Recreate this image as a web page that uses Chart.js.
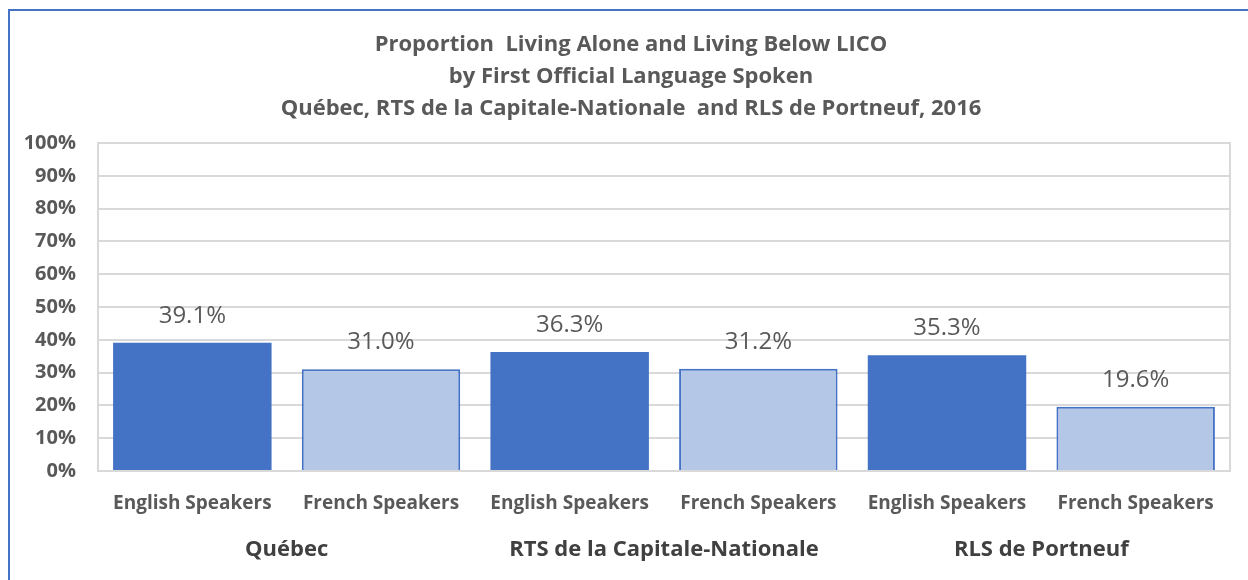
<!DOCTYPE html>
<html>
<head>
<meta charset="utf-8">
<script src="https://cdn.jsdelivr.net/npm/chart.js@4"></script>
<style>
  html, body { margin: 0; padding: 0; background: #fff; overflow: hidden; }
  #wrap { position: relative; width: 1248px; height: 580px; }
  #frame { position: absolute; left: 8px; top: 9px; width: 1300px; height: 700px; border: 2px solid #4472C4; box-sizing: border-box; }
  #plot { position: absolute; left: 0; top: 0; }
</style>
</head>
<body>
<div id="wrap">
  <div id="frame"></div>
  <canvas id="plot" width="1248" height="580"></canvas>
</div>
<script>
const ctx = document.querySelector("#plot").getContext("2d");

const TITLE = [
  "Proportion  Living Alone and Living Below LICO",
  "by First Official Language Spoken",
  "Québec, RTS de la Capitale-Nationale  and RLS de Portneuf, 2016"
];
const languages = ["English Speakers", "French Speakers", "English Speakers", "French Speakers", "English Speakers", "French Speakers"];
const regions = ["Québec", "RTS de la Capitale-Nationale", "RLS de Portneuf"];
const values = [39.1, 31.0, 36.3, 31.2, 35.3, 19.6];
const yTicks = [0, 10, 20, 30, 40, 50, 60, 70, 80, 90, 100];

const DARK = "#4472C4";
const LIGHT = "#B4C7E7";
const GREY = "#595959";
const FONT = "'Open Sans', sans-serif";

// title drawn by hand so each line sits where it should
const titlePlugin = {
  id: "titleLines",
  afterDraw(chart) {
    const c = chart.ctx;
    c.save();
    c.fillStyle = GREY;
    c.font = "bold 22px " + FONT;
    c.textAlign = "center";
    c.textBaseline = "middle";
    TITLE.forEach((line, i) => c.fillText(line, 631, 45 + i * 32));
    c.restore();
  }
};

// plot area frame + value labels above bars
const labelPlugin = {
  id: "valueLabels",
  beforeDatasetsDraw(chart) {
    const a = chart.chartArea;
    const c = chart.ctx;
    c.save();
    c.strokeStyle = "#D9D9D9";
    c.lineWidth = 2;
    c.strokeRect(a.left, a.top, a.right - a.left, a.bottom - a.top);
    c.restore();
  },
  afterDatasetsDraw(chart) {
    const c = chart.ctx;
    const meta = chart.getDatasetMeta(0);
    c.save();
    c.fillStyle = GREY;
    c.font = "24px " + FONT;
    c.textAlign = "center";
    c.textBaseline = "middle";
    meta.data.forEach((bar, i) => {
      c.fillText(values[i].toFixed(1) + "%", bar.x, bar.y - 27);
    });
    c.restore();
  }
};

const chart = new Chart(ctx, {
  type: "bar",
  data: {
    labels: languages,
    datasets: [{
      data: values,
      backgroundColor: values.map((v, i) => i % 2 === 0 ? DARK : LIGHT),
      borderColor: DARK,
      borderWidth: values.map((v, i) => i % 2 === 0 ? 0 : 2),
      barPercentage: 0.84,
      categoryPercentage: 1
    }]
  },
  options: {
    responsive: false,
    animation: false,
    layout: { padding: { left: 10, right: 18, top: 143, bottom: 9 } },
    plugins: { legend: { display: false }, tooltip: { enabled: false } },
    scales: {
      x: {
        grid: { display: false, drawTicks: false },
        border: { display: false },
        ticks: { color: GREY, font: { family: FONT, size: 19, weight: "bold" }, padding: 21, maxRotation: 0, autoSkip: false },
        afterFit(s) { s.height = 52; }
      },
      x2: {
        type: "category",
        position: "bottom",
        labels: regions,
        offset: true,
        grid: { display: false, drawTicks: false },
        border: { display: false },
        ticks: { color: "#404040", font: { family: FONT, size: 22, weight: "bold" }, padding: 14, maxRotation: 0 },
        afterFit(s) { s.height = 48; }
      },
      y: {
        min: 0,
        max: 100,
        afterBuildTicks(s) { s.ticks = yTicks.map(v => ({ value: v })); },
        grid: { color: "#D9D9D9", lineWidth: 2, drawTicks: false },
        border: { display: false },
        ticks: { color: GREY, font: { family: FONT, size: 20, weight: "bold" }, padding: 22, callback: v => v + "%" },
        afterFit(s) { s.width = 88; }
      }
    }
  },
  plugins: [titlePlugin, labelPlugin]
});
</script>
</body>
</html>
